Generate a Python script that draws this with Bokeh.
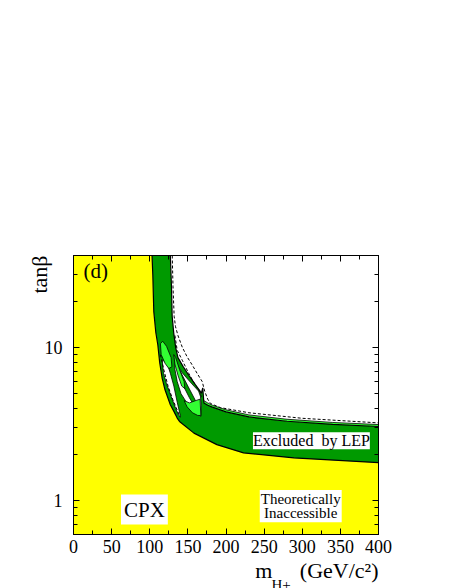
import math
from bokeh.plotting import figure
from bokeh.models import (Label, Title, LinearAxis, LogAxis, FixedTicker,
                          BasicTickFormatter, CustomJSTickFormatter)
from bokeh.embed import file_html
from bokeh.resources import INLINE

# ---- data ----
x_lo, x_hi = 0, 400
y_lo, y_hi = 0.6, 40

x_major = [0, 50, 100, 150, 200, 250, 300, 350, 400]
x_minor = [25, 75, 125, 175, 225, 275, 325, 375]
y_major = [1, 10]
y_minor = [0.6, 0.7, 0.8, 0.9, 2, 3, 4, 5, 6, 7, 8, 9, 20, 30, 40]

# theoretically inaccessible boundary
theo_x = [103, 104, 105.3, 108, 110.6, 113, 116.3, 120, 127, 132, 136, 139, 158, 188, 223, 289, 400]
theo_y = [40, 30, 17.2, 12.5, 10.4, 8.0, 6.3, 5.3, 4.23, 3.8, 3.46, 3.29, 2.76, 2.32, 2.05, 1.90, 1.77]

# observed exclusion boundary
obs_x = [127, 128.5, 129.4, 131.5, 134, 137, 144, 152, 160, 166, 167.5, 169.5, 171, 176, 182, 200, 230, 280, 340, 400]
obs_y = [40, 25, 16, 12.4, 10, 8.6, 7.5, 6.5, 5.7, 5.2, 5.0, 5.45, 4.35, 4.2, 4.08, 3.8, 3.52, 3.3, 3.15, 3.05]

# thin light-green strip on top of the band
lgs_x = [171, 176, 182, 200, 230, 280, 340, 400]
lgs_y = [4.5, 4.35, 4.2, 3.92, 3.63, 3.4, 3.24, 3.14]

# unexcluded holes inside the band
wh1_x = [116.3, 120, 122.8, 127, 131.6, 136, 140.3, 138, 134, 128, 122, 118]
wh1_y = [8.3, 8.1, 7.9, 6.8, 5.6, 4.4, 3.55, 3.6, 4.0, 4.8, 5.8, 6.8]
wh2_x = [133, 137, 142, 150, 158, 164, 166.5, 167.5, 167, 162, 155, 148, 141, 136, 133]
wh2_y = [8.6, 7.6, 6.9, 6.2, 5.6, 5.2, 4.8, 4.2, 3.55, 3.7, 4.0, 4.4, 5.0, 6.0, 7.2]

# dark-green strip crossing the second hole
dgs_x = [136, 140, 150, 160, 166, 163, 152, 142, 137]
dgs_y = [7.6, 7.0, 5.6, 4.5, 3.9, 3.8, 4.7, 5.9, 6.9]

# light-green patches
lg1_x = [114, 117, 122, 128, 129, 125, 120, 115]
lg1_y = [10.6, 11.0, 10.2, 8.6, 7.5, 7.3, 7.9, 9.0]
lg2_x = [131.5, 134, 139, 145, 146, 142, 137, 133]
lg2_y = [9.0, 8.6, 7.2, 6.0, 5.4, 5.6, 6.6, 7.8]
lg3_x = [145, 152, 160, 166, 167, 163, 156, 149]
lg3_y = [4.5, 4.35, 4.5, 4.6, 3.6, 3.6, 3.75, 4.1]

# expected limits (dashed)
exp_x = [129.5, 130.5, 132, 133.8, 137, 142.5, 149, 155.7, 162, 168.8, 172, 176, 180, 192.8, 230, 300, 400]
exp_y = [40, 25, 16, 13.7, 12, 10.1, 8.7, 7.7, 6.8, 6.0, 5.2, 4.6, 4.3, 4.05, 3.75, 3.45, 3.22]
exp2_x = [133, 136, 143, 151, 158, 166.6, 168]
exp2_y = [12, 9.6, 8.2, 6.8, 5.9, 5.06, 4.6]
exp3_x = [114, 118, 124, 130, 136, 140]
exp3_y = [9.0, 7.3, 5.6, 4.6, 3.9, 3.5]

SERIF = "Liberation Serif"
YELLOW = "#ffff00"
DGREEN = "#009a00"
LGREEN = "#33ff33"
NB = "\u00a0"

p = figure(frame_width=305, frame_height=279, x_range=(x_lo, x_hi), y_range=(y_lo, y_hi),
           y_axis_type="log", output_backend="svg", toolbar_location=None,
           min_border_left=73, min_border_right=68, min_border_top=255, min_border_bottom=54)
p.xgrid.visible = False
p.ygrid.visible = False
p.outline_line_color = "black"
p.outline_line_width = 1
p.background_fill_color = "white"
p.border_fill_color = "white"

# regions
p.patch([x_lo, x_lo] + theo_x + [x_hi], [y_lo, y_hi] + theo_y + [y_lo],
        fill_color=YELLOW, line_color=None)
p.patch(obs_x + theo_x[::-1], obs_y + theo_y[::-1], fill_color=DGREEN, line_color=None)
p.patch(lgs_x + obs_x[::-1][:len(lgs_x)], lgs_y + obs_y[::-1][:len(lgs_y)],
        fill_color=LGREEN, line_color=None)
p.patch(wh1_x, wh1_y, fill_color="white", line_color="black", line_width=0.8)
p.patch(wh2_x, wh2_y, fill_color="white", line_color="black", line_width=0.8)
p.patch(dgs_x, dgs_y, fill_color=DGREEN, line_color="black", line_width=0.8)
for xs, ys in [(lg1_x, lg1_y), (lg2_x, lg2_y), (lg3_x, lg3_y)]:
    p.patch(xs, ys, fill_color=LGREEN, line_color="black", line_width=0.8)

# boundaries
p.line(theo_x, theo_y, line_color="black", line_width=1.2)
p.line(obs_x, obs_y, line_color="black", line_width=1.2)
p.line(lgs_x, lgs_y, line_color="black", line_width=0.8)
for xs, ys in [(exp_x, exp_y), (exp2_x, exp2_y), (exp3_x, exp3_y)]:
    p.line(xs, ys, line_color="black", line_width=1, line_dash="3 2")

# axes
def style_axis(ax):
    ax.axis_line_color = "black"
    ax.major_tick_in = 6
    ax.major_tick_out = 0
    ax.minor_tick_in = 4
    ax.minor_tick_out = 0
    ax.major_tick_line_color = "black"
    ax.minor_tick_line_color = "black"
    ax.major_label_text_font = SERIF
    ax.major_label_text_color = "black"
    ax.major_label_text_font_size = "18px"

xb = p.xaxis[0]
xb.ticker = FixedTicker(ticks=x_major, minor_ticks=x_minor)
xb.formatter = BasicTickFormatter()
style_axis(xb)
xb.major_label_standoff = 5

yl = p.yaxis[0]
yl.ticker = FixedTicker(ticks=y_major, minor_ticks=y_minor)
yl.formatter = BasicTickFormatter()
style_axis(yl)
yl.major_label_standoff = 11

blank = CustomJSTickFormatter(code="return ''")
xt = LinearAxis(ticker=FixedTicker(ticks=x_major, minor_ticks=x_minor), formatter=blank)
style_axis(xt)
p.add_layout(xt, "above")
yr = LogAxis(ticker=FixedTicker(ticks=y_major, minor_ticks=y_minor), formatter=blank)
style_axis(yr)
p.add_layout(yr, "right")

# in-plot texts
def lab(text, x, y, size, align="left", baseline="middle", bg=None, pad=0, lh=1.2):
    kw = {}
    if bg:
        kw = dict(background_fill_color=bg, padding=pad)
    p.add_layout(Label(x=x, y=y, text=text, text_font=SERIF, text_font_size=size,
                       text_align=align, text_baseline=baseline, text_line_height=lh,
                       text_color="black", **kw))

lab("(d)", 13, 31.6, "21px")
lab("CPX", 93, 0.873, "21px", align="center", bg="white", pad=3)
lab("Theoretically\nInaccessible", 298, 0.92, "15px", align="center", bg="white", pad=1, lh=0.9)
lab("Excluded" + NB + " by LEP", 312, 2.46, "16px", align="center", bg="white", pad=0)

# axis titles (as side-panel titles)
def title(text, place, size, align, offset=0, standoff=0):
    t = Title(text=text, align=align, offset=offset, standoff=standoff,
              text_font=SERIF, text_font_size=size, text_font_style="normal",
              text_color="black")
    p.add_layout(t, place)

title("tan\u03b2", "left", "22px", "right", offset=0, standoff=-20)
title("m" + NB * 5 + "(GeV/c\u00b2)", "below", "22px", "right", offset=0, standoff=0)
title("H+", "below", "15px", "left", offset=198, standoff=-21)

open("out.html", "w").write(file_html(p, INLINE))
